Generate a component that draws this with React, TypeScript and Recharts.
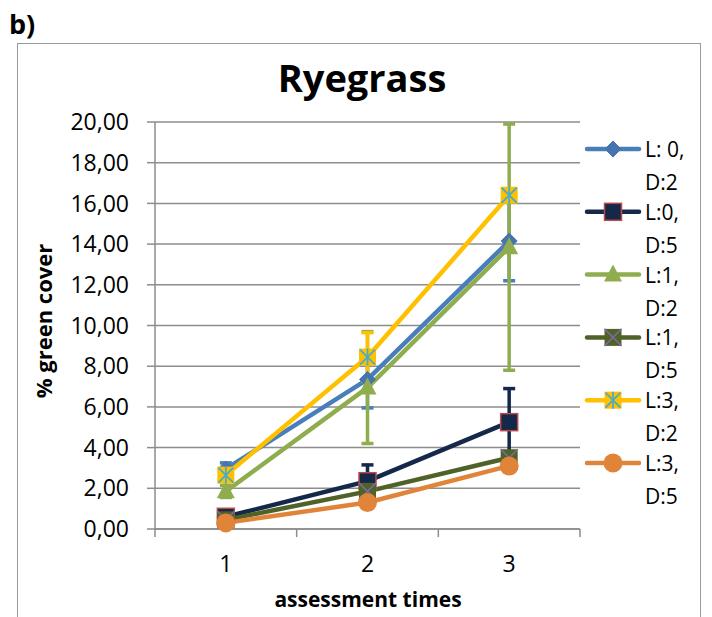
import React from "react";
import { LineChart, Line, XAxis, YAxis, CartesianGrid, ErrorBar } from "recharts";

const FONT = "'Open Sans', sans-serif";

// assessment times on the x axis
const times = [1, 2, 3];
const xTicks = [0.5, 1, 1.5, 2, 2.5, 3, 3.5];
const yTicks = [0, 2, 4, 6, 8, 10, 12, 14, 16, 18, 20];

const seriesNames = ["L: 0, D:2", "L:0, D:5", "L:1, D:2", "L:1, D:5", "L:3, D:2", "L:3, D:5"];

// % green cover, mean per time
const l0d2 = [2.95, 7.35, 14.15];
const l0d5 = [0.6, 2.35, 5.25];
const l1d2 = [1.85, 6.95, 13.85];
const l1d5 = [0.45, 1.85, 3.5];
const l3d2 = [2.65, 8.45, 16.4];
const l3d5 = [0.3, 1.3, 3.1];

// error bars (+/-)
const l0d2Err = [0.3, 1.4, 1.95];
const l0d5Err = [0.2, 0.8, 1.65];
const l1d2Err = [0.3, 2.75, 6.05];
const l1d5Err = [0.1, 0.3, 0.3];
const l3d2Err = [0.3, 1.2, 0.3];
const l3d5Err = [0.1, 0.2, 0.3];

const keys = ["l0d2", "l0d5", "l1d2", "l1d5", "l3d2", "l3d5"];
const values = [l0d2, l0d5, l1d2, l1d5, l3d2, l3d5];
const errors = [l0d2Err, l0d5Err, l1d2Err, l1d5Err, l3d2Err, l3d5Err];

const data = times.map((t, i) => {
  const row: Record<string, number> = { t };
  keys.forEach((k, s) => {
    row[k] = values[s][i];
    row[k + "Err"] = errors[s][i];
  });
  return row;
});

const series = [
  { color: "#4A7EBB", marker: "diamond" },
  { color: "#14284A", marker: "navySquare" },
  { color: "#8FAD4E", marker: "triangle" },
  { color: "#4F6228", marker: "xSquare" },
  { color: "#FFC000", marker: "starSquare" },
  { color: "#E0843A", marker: "circle" },
];

function Marker({ kind, cx, cy }: { kind: string; cx: number; cy: number }) {
  const h = 8.5;
  switch (kind) {
    case "diamond":
      return (
        <polygon
          points={`${cx},${cy - 8} ${cx + 8},${cy} ${cx},${cy + 8} ${cx - 8},${cy}`}
          fill="#4674B0"
          stroke="#4674B0"
          strokeWidth={1}
        />
      );
    case "navySquare":
      return (
        <rect x={cx - h} y={cy - h} width={2 * h} height={2 * h} fill="#14284A" stroke="#B94A48" strokeWidth={1.5} />
      );
    case "triangle":
      return (
        <polygon
          points={`${cx},${cy - 10} ${cx + 9},${cy + 7} ${cx - 9},${cy + 7}`}
          fill="#8FAD4E"
        />
      );
    case "xSquare":
      return (
        <g>
          <rect x={cx - h} y={cy - h} width={2 * h} height={2 * h} fill="#4F6228" />
          <line x1={cx - h} y1={cy - h} x2={cx + h} y2={cy + h} stroke="#7E6A9E" strokeWidth={1.5} />
          <line x1={cx - h} y1={cy + h} x2={cx + h} y2={cy - h} stroke="#7E6A9E" strokeWidth={1.5} />
        </g>
      );
    case "starSquare":
      return (
        <g>
          <rect x={cx - h} y={cy - h} width={2 * h} height={2 * h} fill="#FFC000" />
          <line x1={cx - h + 1} y1={cy - h + 1} x2={cx + h - 1} y2={cy + h - 1} stroke="#4BACC6" strokeWidth={1.8} />
          <line x1={cx - h + 1} y1={cy + h - 1} x2={cx + h - 1} y2={cy - h + 1} stroke="#4BACC6" strokeWidth={1.8} />
          <line x1={cx} y1={cy - h} x2={cx} y2={cy + h} stroke="#4BACC6" strokeWidth={1.8} />
        </g>
      );
    default:
      return <circle cx={cx} cy={cy} r={9.5} fill="#E0843A" />;
  }
}

function XTick(props: any) {
  const { x, y, payload } = props;
  const v = payload.value as number;
  if (!Number.isInteger(v)) {
    return <line x1={x} y1={y - 8} x2={x} y2={y} stroke="#8d8d8d" strokeWidth={1.5} />;
  }
  return (
    <text x={x} y={y + 35} textAnchor="middle" fontFamily={FONT} fontSize={23} fill="#000">
      {v}
    </text>
  );
}

export default function App() {
  return (
    <div style={{ position: "absolute", left: 0, top: 0, width: 712, height: 617, overflow: "hidden", background: "#fff" }}>
      <div
        style={{
          position: "absolute",
          left: 17,
          top: 43,
          width: 684,
          height: 574,
          borderLeft: "1.5px solid #9a9a9a",
          borderTop: "1.5px solid #9a9a9a",
          borderRight: "1.5px solid #9a9a9a",
          boxSizing: "border-box",
        }}
      />
      <div style={{ position: "absolute", left: 0, top: 0 }}>
        <LineChart width={712} height={617} data={data} margin={{ top: 122, right: 132, bottom: 48, left: 95 }}>
          <CartesianGrid vertical={false} stroke="#8d8d8d" strokeWidth={1.5} />
          <XAxis
            dataKey="t"
            type="number"
            domain={[0.5, 3.5]}
            ticks={xTicks}
            interval={0}
            height={40}
            tickLine={false}
            tickSize={8}
            tickMargin={0}
            axisLine={{ stroke: "#8d8d8d", strokeWidth: 1.5 }}
            tick={<XTick />}
          />
          <YAxis
            domain={[0, 20]}
            ticks={yTicks}
            interval={0}
            width={60}
            tickSize={8}
            tickMargin={18}
            tickLine={{ stroke: "#8d8d8d", strokeWidth: 1.5 }}
            axisLine={{ stroke: "#8d8d8d", strokeWidth: 1.5 }}
            tick={{ fill: "#000", fontFamily: FONT, fontSize: 23 }}
            tickFormatter={(v: number) => v.toFixed(2).replace(".", ",")}
          />
          {keys.map((k, s) => (
            <Line
              key={k}
              dataKey={k}
              name={seriesNames[s]}
              stroke={series[s].color}
              strokeWidth={4.5}
              strokeLinejoin="round"
              isAnimationActive={false}
              activeDot={false}
              dot={(p: any) => <Marker key={`${k}-${p.index}`} kind={series[s].marker} cx={p.cx} cy={p.cy} />}
            >
              <ErrorBar
                dataKey={k + "Err"}
                direction="y"
                width={6}
                strokeWidth={3.5}
                stroke={series[s].color}
                isAnimationActive={false}
              />
            </Line>
          ))}
        </LineChart>
      </div>
      <svg width={712} height={617} style={{ position: "absolute", left: 0, top: 0, pointerEvents: "none" }}>
        <text x={9} y={34} fontFamily={FONT} fontWeight={700} fontSize={27} fill="#000">
          b)
        </text>
        <text x={362} y={92} textAnchor="middle" fontFamily={FONT} fontWeight={700} fontSize={38} fill="#000">
          Ryegrass
        </text>
        <text
          x={0}
          y={0}
          transform="translate(52, 321) rotate(-90)"
          textAnchor="middle"
          fontFamily={FONT}
          fontWeight={700}
          fontSize={22}
          fill="#000"
        >
          % green cover
        </text>
        <text x={368} y={607} textAnchor="middle" fontFamily={FONT} fontWeight={700} fontSize={21} fill="#000">
          assessment times
        </text>
        {seriesNames.map((name, i) => {
          const y = 149 + i * 62.8;
          const parts = name.split(", ");
          return (
            <g key={name}>
              <line x1={587} y1={y} x2={639} y2={y} stroke={series[i].color} strokeWidth={4.5} strokeLinecap="round" />
              <Marker kind={series[i].marker} cx={613} cy={y} />
              <text x={645} y={y + 8} fontFamily={FONT} fontSize={21} fill="#000">
                {parts[0] + ","}
              </text>
              <text x={645} y={y + 41} fontFamily={FONT} fontSize={21} fill="#000">
                {parts[1]}
              </text>
            </g>
          );
        })}
      </svg>
    </div>
  );
}
